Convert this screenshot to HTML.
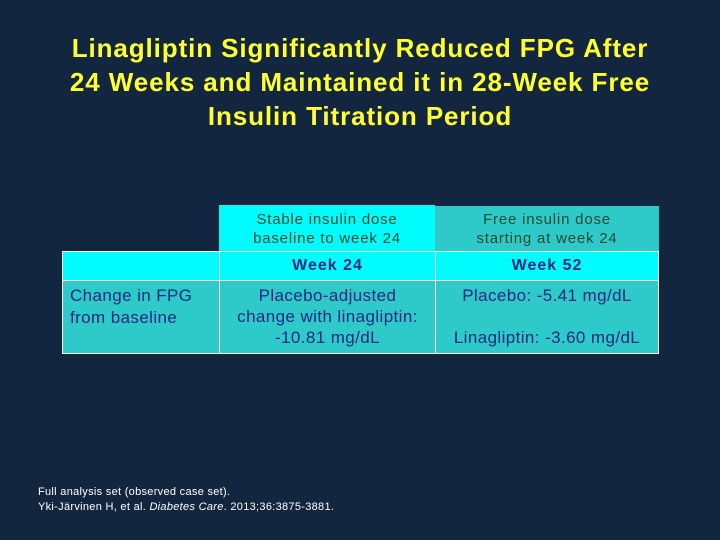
<!DOCTYPE html>
<html><head><meta charset="utf-8"><style>
body{margin:0;width:720px;height:540px;background:#13263f;position:relative;overflow:hidden;font-family:"Liberation Sans",Arial,sans-serif}
.t{position:absolute;left:0;width:720px;top:31px;text-align:center;color:#ffff33;font-weight:bold;font-size:26px;line-height:34px;letter-spacing:0.9px}
.c{position:absolute;box-sizing:border-box;text-align:center;color:#1b2a80;font-size:17px;letter-spacing:0.4px}
.fn{position:absolute;left:38px;top:485px;color:#fff;font-size:11px;line-height:15px;letter-spacing:0.3px}
</style></head><body>
<div class="t">Linagliptin Significantly Reduced FPG After<br>24 Weeks and Maintained it in 28-Week Free<br>Insulin Titration Period</div>

<div class="c" style="left:219px;top:205px;width:216px;height:46px;background:#00fcfc;color:#1e4a2e;font-size:15px;letter-spacing:0.8px;line-height:19px;padding-top:5px">Stable insulin dose<br>baseline to week 24</div>
<div class="c" style="left:435px;top:206px;width:224px;height:45px;background:#2ecaca;color:#1e4a2e;font-size:15px;letter-spacing:0.8px;line-height:19px;padding-top:4px">Free insulin dose<br>starting at week 24</div>

<div class="c" style="left:62px;top:251px;width:158px;height:30px;background:#00fcfc;border:1px solid #fff"></div>
<div class="c" style="left:219px;top:251px;width:217px;height:30px;background:#00fcfc;border:1px solid #fff;line-height:28px;font-weight:bold;font-size:16px;letter-spacing:1px">Week 24</div>
<div class="c" style="left:435px;top:251px;width:224px;height:30px;background:#00fcfc;border:1px solid #fff;line-height:28px;font-weight:bold;font-size:16px;letter-spacing:1px">Week 52</div>

<div class="c" style="left:62px;top:280px;width:158px;height:74px;background:#2ecaca;border:1px solid #fff;text-align:left;padding:4px 0 0 7px;line-height:22px">Change in FPG<br>from baseline</div>
<div class="c" style="left:219px;top:280px;width:217px;height:74px;background:#2ecaca;border:1px solid #fff;padding-top:4px;line-height:21px">Placebo-adjusted<br>change with linagliptin:<br>-10.81 mg/dL</div>
<div class="c" style="left:435px;top:280px;width:224px;height:74px;background:#2ecaca;border:1px solid #fff;padding-top:4px;line-height:21px">Placebo: -5.41 mg/dL<br><br>Linagliptin: -3.60 mg/dL</div>

<div class="fn">Full analysis set (observed case set).<br>Yki-Järvinen H, et al. <i>Diabetes Care</i>. 2013;36:3875-3881.</div>
</body></html>
